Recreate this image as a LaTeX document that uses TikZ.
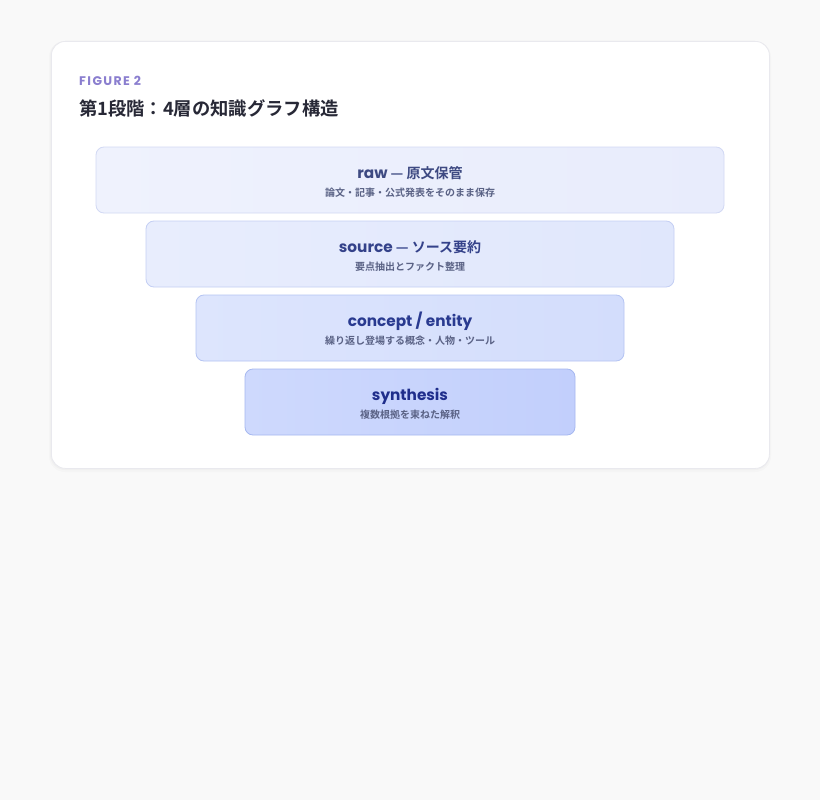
\documentclass[tikz,border=0pt]{standalone}
\usepackage{fontspec}
\setmainfont{Noto Sans CJK JP}
\newfontfamily\jpb{Noto Sans CJK JP}[BoldFont={* Bold}]
\newfontfamily\pop{Poppins}
\definecolor{bgc}{HTML}{F9F9F9}
\definecolor{cardedge}{HTML}{E9E9EE}
\definecolor{figc}{HTML}{8A7ECF}
\definecolor{titlec}{HTML}{272836}
\definecolor{subc}{HTML}{5A6285}
\definecolor{rawL}{HTML}{EFF2FD}\definecolor{rawR}{HTML}{E8ECFC}\definecolor{rawE}{HTML}{D2D9F4}\definecolor{rawT}{HTML}{3E4A82}
\definecolor{srcL}{HTML}{E8EDFD}\definecolor{srcR}{HTML}{E0E7FC}\definecolor{srcE}{HTML}{C4CFF4}\definecolor{srcT}{HTML}{34428A}
\definecolor{conL}{HTML}{DDE5FD}\definecolor{conR}{HTML}{D3DDFC}\definecolor{conE}{HTML}{B5C4F3}\definecolor{conT}{HTML}{293A90}
\definecolor{synL}{HTML}{CED9FD}\definecolor{synR}{HTML}{C2CFFC}\definecolor{synE}{HTML}{A6B8F0}\definecolor{synT}{HTML}{1F2E8C}
\tikzset{
  layerbox/.style={rectangle, rounded corners=8pt, minimum height=66pt, line width=0.8pt, inner sep=0pt},
  layertitle/.style={font=\jpb\bfseries\fontsize{14}{16}\selectfont, inner sep=0pt, anchor=base},
  layersub/.style={font=\jpb\bfseries\fontsize{10}{11}\selectfont, text=subc, inner sep=0pt, anchor=base},
}
\newcommand\lat[1]{{\pop\bfseries\fontsize{15.3}{17}\selectfont #1}}
\begin{document}
\begin{tikzpicture}[x=1pt,y=-1pt]
\useasboundingbox (0,0) rectangle (820,800);
\fill[bgc] (0,0) rectangle (820,800);
\fill[black, opacity=0.015, rounded corners=16pt] (49,41) rectangle (771,472);
\fill[black, opacity=0.02, rounded corners=15pt] (50,41) rectangle (770,470);
\node[rectangle, rounded corners=14pt, fill=white, draw=cardedge, line width=0.8pt,
  minimum width=718pt, minimum height=427pt, inner sep=0pt, anchor=north west]
  (card) at (51,41) {};
\node[anchor=base west, inner sep=0pt, text=figc, font=\pop\bfseries\fontsize{12.5}{14}\selectfont]
  (fig) at (79,85) {F\kern1.4pt I\kern1.4pt G\kern1.4pt U\kern1.4pt R\kern1.4pt E\kern4pt 2};
\node[anchor=base west, inner sep=0pt, text=titlec, font=\jpb\bfseries\fontsize{18.3}{20}\selectfont]
  (title) at (79,116) {第1段階：4層の知識グラフ構造};

\node[layerbox, minimum width=628pt, left color=rawL, right color=rawR, draw=rawE] (raw) at (410,180) {};
\node[layertitle, text=rawT] (rawt) at (410,178) {\lat{raw} — 原文保管};
\node[layersub] (raws) at (410,196) {論文・記事・公式発表をそのまま保存};

\node[layerbox, minimum width=528pt, left color=srcL, right color=srcR, draw=srcE] (src) at (410,254) {};
\node[layertitle, text=srcT] (srct) at (410,252) {\lat{source} — ソース要約};
\node[layersub] (srcs) at (410,270) {要点抽出とファクト整理};

\node[layerbox, minimum width=428pt, left color=conL, right color=conR, draw=conE] (con) at (410,328) {};
\node[layertitle, text=conT] (cont) at (410,326) {\lat{concept / entity}};
\node[layersub] (cons) at (410,344) {繰り返し登場する概念・人物・ツール};

\node[layerbox, minimum width=330pt, left color=synL, right color=synR, draw=synE] (syn) at (410,402) {};
\node[layertitle, text=synT] (synt) at (410,400) {\lat{synthesis}};
\node[layersub] (syns) at (410,418) {複数根拠を束ねた解釈};
\end{tikzpicture}
\end{document}
